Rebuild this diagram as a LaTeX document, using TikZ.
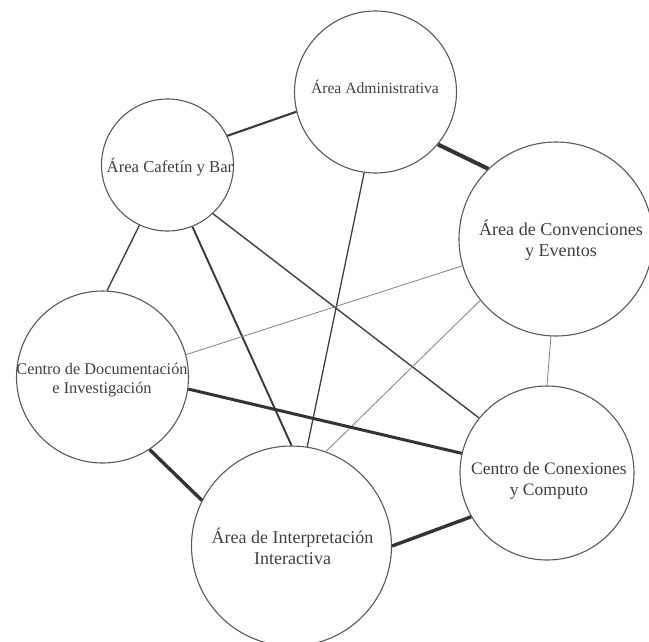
\documentclass[tikz,border=0pt]{standalone}
\usepackage{fontspec}
\setmainfont{Liberation Serif}
\begin{document}
\begin{tikzpicture}[x=1pt,y=-1pt,
  area/.style={circle,draw=black!65,line width=1.1pt,fill=white,inner sep=0pt},
  lbl/.style={align=center,text=black!75,inner sep=0pt},
  heavy/.style={draw=black!80,line width=3.4pt},
  medium/.style={draw=black!78,line width=2.1pt},
  light/.style={draw=black!75,line width=1.4pt},
  faint/.style={draw=black!50,line width=0.8pt}]
\useasboundingbox (0,0) rectangle (649,641);
\node[area,minimum size=162pt] (A) at (375.5,92) {};
\node[area,minimum size=132pt] (C) at (167.5,165) {};
\node[area,minimum size=194pt] (E) at (556,239) {};
\node[area,minimum size=172pt] (D) at (102.5,377) {};
\node[area,minimum size=174pt] (X) at (547,473) {};
\node[area,minimum size=200pt] (I) at (291.5,546) {};
\draw[medium] (C.26) -- (A.194);
\draw[heavy,line width=4pt] (A.320) -- (E.134.6);
\draw[light] (C.245) -- (D.87);
\draw[medium,line width=1.9pt] (C.292) -- (I.90);
\draw[light] (C.313) -- (X.141.4);
\draw[light,line width=1.3pt] (A.262) -- (I.81.7);
\draw[faint] (D.15.9) -- (E.196.9);
\draw[faint] (E.219.6) -- (I.70.4);
\draw[faint] (E.267.7) -- (X.90);
\draw[heavy,line width=3pt] (D.352) -- (X.167);
\draw[heavy] (D.303.6) -- (I.153.8);
\draw[heavy] (I.0) -- (X.210);
\node[lbl,font=\fontsize{15.6}{20}\selectfont] (tA) at (375,87) {Área Administrativa};
\node[lbl,font=\fontsize{16.7}{20}\selectfont] (tC) at (170,167) {Área Cafetín y Bar};
\node[lbl,font=\fontsize{18.1}{20.5}\selectfont] (tE) at (561,240) {Área de Convenciones\\y Eventos};
\node[lbl,font=\fontsize{16.3}{18.5}\selectfont] (tD) at (102,380) {Centro de Documentación\\e Investigación};
\node[lbl,font=\fontsize{17.5}{21}\selectfont] (tX) at (549,481) {Centro de Conexiones\\y Computo};
\node[lbl,font=\fontsize{18}{21}\selectfont] (tI) at (292.5,546) {Área de Interpretación\\Interactiva};
\end{tikzpicture}
\end{document}
